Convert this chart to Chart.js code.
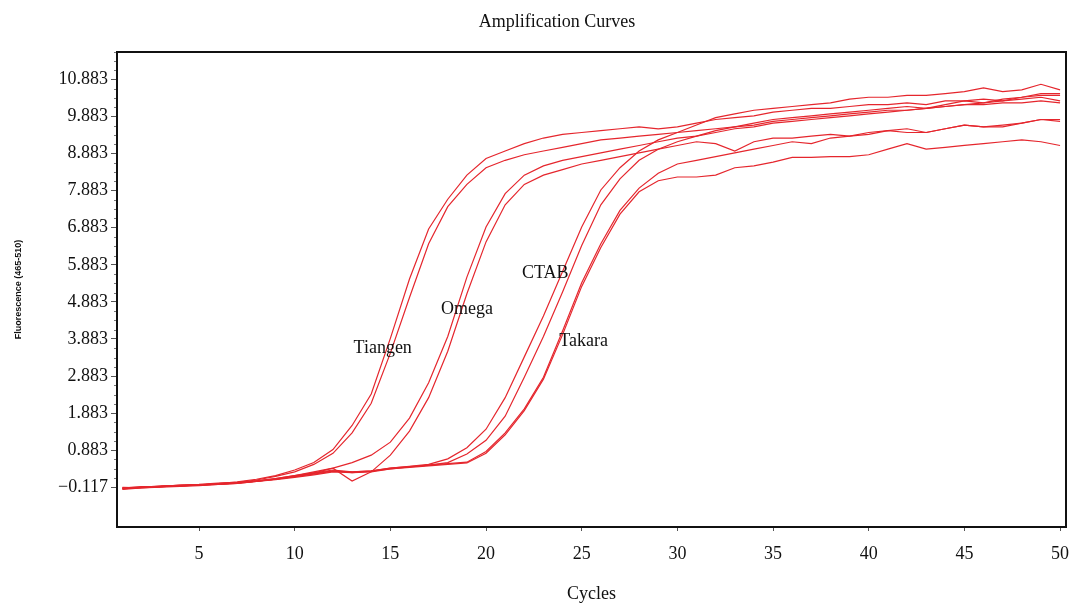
<!DOCTYPE html>
<html>
<head>
<meta charset="utf-8">
<title>Amplification Curves</title>
<script src="https://cdn.jsdelivr.net/npm/chart.js@4.4.0/dist/chart.umd.min.js"></script>
<style>
  html, body { margin: 0; padding: 0; background: #fff; }
  canvas { display: block; }
</style>
</head>
<body>
<canvas id="amp-chart" width="1075" height="605"></canvas>
<script>
// --- Data ---
const cycles = [1, 2, 3, 4, 5, 6, 7, 8, 9, 10, 11, 12, 13, 14, 15, 16, 17, 18, 19, 20,
  21, 22, 23, 24, 25, 26, 27, 28, 29, 30, 31, 32, 33, 34, 35, 36, 37, 38, 39, 40,
  41, 42, 43, 44, 45, 46, 47, 48, 49, 50];

const tiangenA = [-0.15, -0.12, -0.08, -0.07, -0.05, -0.02, 0.03, 0.1, 0.2, 0.35,
  0.55, 0.9, 1.55, 2.4, 3.9, 5.5, 6.85, 7.65, 8.3, 8.75,
  8.95, 9.15, 9.3, 9.4, 9.45, 9.5, 9.55, 9.6, 9.55, 9.6,
  9.7, 9.8, 9.85, 9.9, 10.0, 10.05, 10.1, 10.1, 10.15, 10.2,
  10.2, 10.25, 10.2, 10.3, 10.3, 10.35, 10.3, 10.35, 10.4, 10.3];
const tiangenB = [-0.12, -0.13, -0.1, -0.06, -0.04, 0.0, 0.02, 0.08, 0.18, 0.3,
  0.5, 0.8, 1.35, 2.15, 3.5, 5.0, 6.45, 7.45, 8.05, 8.5,
  8.7, 8.85, 8.95, 9.05, 9.15, 9.25, 9.3, 9.35, 9.4, 9.45,
  9.5, 9.55, 9.6, 9.65, 9.75, 9.8, 9.85, 9.9, 9.95, 10.0,
  10.05, 10.05, 10.1, 10.15, 10.2, 10.2, 10.25, 10.25, 10.3, 10.25];
const omegaA = [-0.14, -0.1, -0.09, -0.06, -0.05, -0.03, 0.0, 0.05, 0.12, 0.2,
  0.3, 0.4, 0.55, 0.75, 1.1, 1.75, 2.7, 3.95, 5.55, 6.9,
  7.8, 8.3, 8.55, 8.7, 8.8, 8.9, 9.0, 9.1, 9.2, 9.3,
  9.35, 9.45, 9.55, 9.6, 9.7, 9.75, 9.8, 9.85, 9.9, 9.95,
  10.0, 10.05, 10.1, 10.15, 10.2, 10.25, 10.35, 10.4, 10.5, 10.5];
const omegaB = [-0.16, -0.12, -0.1, -0.08, -0.06, -0.04, -0.01, 0.04, 0.1, 0.18,
  0.27, 0.4, 0.05, 0.3, 0.75, 1.4, 2.3, 3.55, 5.1, 6.5,
  7.5, 8.05, 8.3, 8.45, 8.6, 8.7, 8.8, 8.9, 9.0, 9.1,
  9.2, 9.15, 8.95, 9.2, 9.3, 9.3, 9.35, 9.4, 9.35, 9.45,
  9.5, 9.45, 9.45, 9.55, 9.65, 9.6, 9.6, 9.7, 9.8, 9.8];
const ctabA = [-0.13, -0.11, -0.09, -0.08, -0.05, -0.03, 0.0, 0.06, 0.12, 0.2,
  0.27, 0.35, 0.3, 0.33, 0.4, 0.45, 0.5, 0.65, 0.95, 1.45,
  2.3, 3.4, 4.5, 5.7, 6.9, 7.9, 8.5, 8.95, 9.25, 9.45,
  9.65, 9.85, 9.95, 10.05, 10.1, 10.15, 10.2, 10.25, 10.35, 10.4,
  10.4, 10.45, 10.45, 10.5, 10.55, 10.65, 10.55, 10.6, 10.75, 10.6];
const ctabB = [-0.15, -0.12, -0.1, -0.07, -0.06, -0.02, 0.01, 0.05, 0.1, 0.18,
  0.26, 0.33, 0.28, 0.32, 0.38, 0.43, 0.48, 0.55, 0.78, 1.15,
  1.8, 2.85, 3.95, 5.15, 6.4, 7.5, 8.2, 8.7, 9.0, 9.2,
  9.35, 9.5, 9.6, 9.7, 9.8, 9.85, 9.9, 9.95, 10.0, 10.05,
  10.1, 10.15, 10.1, 10.2, 10.3, 10.25, 10.3, 10.4, 10.45, 10.45];
const takaraA = [-0.14, -0.12, -0.1, -0.08, -0.05, -0.03, 0.0, 0.05, 0.1, 0.17,
  0.24, 0.32, 0.3, 0.32, 0.4, 0.44, 0.48, 0.52, 0.56, 0.85,
  1.35, 2.0, 2.85, 4.1, 5.4, 6.45, 7.35, 7.95, 8.35, 8.6,
  8.7, 8.8, 8.9, 9.0, 9.1, 9.2, 9.15, 9.3, 9.35, 9.4,
  9.5, 9.55, 9.45, 9.55, 9.65, 9.6, 9.65, 9.7, 9.8, 9.75];
const takaraB = [-0.17, -0.13, -0.11, -0.09, -0.07, -0.04, -0.01, 0.04, 0.09, 0.15,
  0.22, 0.3, 0.28, 0.3, 0.38, 0.42, 0.46, 0.5, 0.54, 0.8,
  1.3, 1.95, 2.8, 4.0, 5.3, 6.35, 7.25, 7.85, 8.15, 8.25,
  8.25, 8.3, 8.5, 8.55, 8.65, 8.78, 8.78, 8.8, 8.8, 8.85,
  9.0, 9.15, 9.0, 9.05, 9.1, 9.15, 9.2, 9.25, 9.2, 9.1];

const seriesList = [tiangenA, tiangenB, omegaA, omegaB, ctabA, ctabB, takaraA, takaraB];

const xTicks = [5, 10, 15, 20, 25, 30, 35, 40, 45, 50];
const yTicks = [-0.117, 0.883, 1.883, 2.883, 3.883, 4.883, 5.883, 6.883, 7.883, 8.883, 9.883, 10.883];

// curve group labels, placed in data coordinates
const labelNames = ['Tiangen', 'Omega', 'CTAB', 'Takara'];
const labelX = [14.6, 19.0, 23.1, 25.1];
const labelY = [3.64, 4.69, 5.66, 3.83];

// --- Styling ---
const serif = "'Liberation Serif', 'DejaVu Serif', serif";
const lineRed = '#e5262d';

// --- Plugins ---
const framePlugin = {
    id: 'frame',
    afterDraw(chart) {
        const { ctx, chartArea } = chart;
        const y = chart.scales.y;
        ctx.save();
        // minor ticks on the y axis (quarter steps between major ticks)
        ctx.strokeStyle = '#777';
        ctx.lineWidth = 1;
        ctx.beginPath();
        yTicks.forEach((v) => {
            [0.25, 0.5, 0.75].forEach((f) => {
                const py = Math.round(y.getPixelForValue(v + f)) + 0.5;
                if (py > chartArea.top) {
                    ctx.moveTo(chartArea.left - 3, py);
                    ctx.lineTo(chartArea.left, py);
                }
            });
        });
        ctx.stroke();
        // box around the plot
        ctx.strokeStyle = '#111';
        ctx.lineWidth = 2;
        ctx.strokeRect(chartArea.left, chartArea.top, chartArea.right - chartArea.left, chartArea.bottom - chartArea.top);
        // title
        ctx.fillStyle = '#111';
        ctx.font = '18px ' + serif;
        ctx.textAlign = 'center';
        ctx.textBaseline = 'middle';
        ctx.fillText('Amplification Curves', 557, 22);
        ctx.restore();
    }
};

const groupLabelPlugin = {
    id: 'groupLabels',
    afterDatasetsDraw(chart) {
        const { ctx } = chart;
        const xs = chart.scales.x;
        const ys = chart.scales.y;
        ctx.save();
        ctx.fillStyle = '#111';
        ctx.font = '18px ' + serif;
        ctx.textAlign = 'center';
        ctx.textBaseline = 'middle';
        labelNames.forEach((name, i) => {
            ctx.fillText(name, xs.getPixelForValue(labelX[i]), ys.getPixelForValue(labelY[i]));
        });
        ctx.restore();
    }
};

// --- Chart ---
const datasets = seriesList.map((vals) => ({
    data: cycles.map((c, i) => ({ x: c, y: vals[i] })),
    borderColor: lineRed,
    borderWidth: 1.2,
    pointRadius: 0,
    tension: 0,
    fill: false
}));

const ctx = document.getElementById('amp-chart').getContext('2d');
new Chart(ctx, {
    type: 'line',
    data: { datasets },
    options: {
        responsive: false,
        animation: false,
        layout: { padding: { left: 8, right: 9, top: 52, bottom: 0 } },
        plugins: {
            legend: { display: false },
            title: { display: false },
            tooltip: { enabled: false }
        },
        scales: {
            x: {
                type: 'linear',
                min: 0.714,
                max: 50.31,
                afterBuildTicks: (s) => { s.ticks = xTicks.map((v) => ({ value: v })); },
                afterFit: (s) => { s.height = 78; s.paddingLeft = 0; s.paddingRight = 0; },
                border: { display: false },
                grid: { drawOnChartArea: false, tickLength: 4, color: '#555' },
                ticks: { color: '#111', font: { family: serif, size: 18 }, padding: 12, maxRotation: 0, autoSkip: false },
                title: {
                    display: true,
                    text: 'Cycles',
                    color: '#111',
                    font: { family: serif, size: 18 },
                    padding: { top: 0, bottom: 0 }
                }
            },
            y: {
                type: 'linear',
                min: -1.187,
                max: 11.62,
                afterBuildTicks: (s) => { s.ticks = yTicks.map((v) => ({ value: v })); },
                afterFit: (s) => { s.width = 109; s.paddingTop = 0; s.paddingBottom = 0; },
                border: { display: false },
                grid: { drawOnChartArea: false, tickLength: 6, color: '#555' },
                ticks: {
                    color: '#111',
                    font: { family: serif, size: 18 },
                    padding: 3,
                    autoSkip: false,
                    callback: (v) => (v < 0 ? '\u2212' : '') + Math.abs(v).toFixed(3)
                },
                title: {
                    display: true,
                    text: 'Fluorescence (465-510)',
                    color: '#111',
                    font: { family: "'Liberation Sans', Arial, sans-serif", size: 9, weight: 'bold' },
                    padding: { top: 5, bottom: 0 }
                }
            }
        }
    },
    plugins: [framePlugin, groupLabelPlugin]
});
</script>
</body>
</html>
